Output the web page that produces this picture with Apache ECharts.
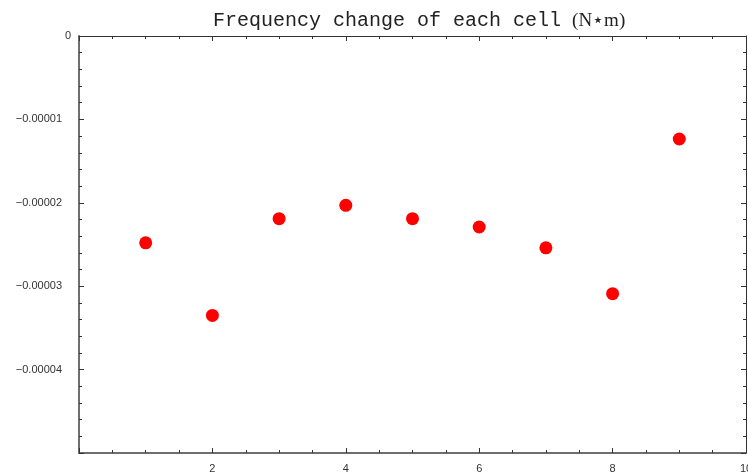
<!DOCTYPE html>
<html>
<head>
<meta charset="utf-8">
<style>html,body{margin:0;padding:0;background:#fff;}#c{width:748px;height:476px;}</style>
<script src="https://cdn.jsdelivr.net/npm/echarts@6/dist/echarts.min.js"></script>
</head>
<body>
<div id="c"></div>
<script>
var cells = [1, 2, 3, 4, 5, 6, 7, 8, 9];
var freqChange = [-2.48e-5, -3.35e-5, -2.19e-5, -2.03e-5, -2.19e-5, -2.29e-5, -2.54e-5, -3.09e-5, -1.235e-5];
var titleMain = 'Frequency change of each cell';
var titleUnit = '(N\u22C6m)';
var xMin = 0, xMax = 10, xStep = 2;
var yMin = -0.00005, yMax = 0, yStep = 0.00001;

var chart = echarts.init(document.getElementById('c'), null, {renderer: 'canvas'});
var pts = cells.map(function (c, i) { return [c, freqChange[i]]; });

var labelFont = {fontFamily: 'Liberation Sans', fontSize: 11, color: '#333'};
function xFmt(v) { return Math.abs(v) < 1e-9 ? '' : String(Math.round(v)); }
function yFmt(v) {
  if (Math.abs(v) < 1e-12) return '{z|0}';
  if (Math.abs(v - yMin) < 1e-12) return '';
  return '{n|' + v.toFixed(5).replace('-', '\u2212') + '}';
}

var option = {
  animation: false,
  backgroundColor: '#fff',
  title: {
    text: '{m|' + titleMain + '}{s|' + titleUnit + '}',
    left: 208, top: 6,
    textStyle: {
      fontWeight: 'normal',
      rich: {
        m: {fontFamily: 'Liberation Mono', fontSize: 20, fontWeight: 'normal', color: '#222'},
        s: {fontFamily: 'Liberation Serif', fontSize: 19, fontWeight: 'normal', color: '#222', padding: [0, 0, 0, 11]}
      }
    }
  },
  grid: {left: 79, right: 2, top: 36, bottom: 23, containLabel: false, outerBoundsMode: 'none'},
  xAxis: [{
    type: 'value', min: xMin, max: xMax, interval: xStep, position: 'bottom',
    axisLine: {show: true, onZero: false, lineStyle: {color: '#6e6e6e', width: 2}},
    axisTick: {show: true, inside: true, length: 5, lineStyle: {color: '#333'}},
    minorTick: {show: true, splitNumber: 4, length: 3, lineStyle: {color: '#333'}},
    axisLabel: Object.assign({margin: 10, formatter: xFmt}, labelFont),
    splitLine: {show: false}
  }, {
    type: 'value', min: xMin, max: xMax, interval: xStep, position: 'top',
    axisLine: {show: true, onZero: false, lineStyle: {color: '#333', width: 1}},
    axisTick: {show: true, inside: true, length: 5, lineStyle: {color: '#333'}},
    minorTick: {show: true, splitNumber: 4, length: 3, lineStyle: {color: '#333'}},
    axisLabel: {show: false},
    splitLine: {show: false}
  }],
  yAxis: [{
    type: 'value', min: yMin, max: yMax, interval: yStep, position: 'left',
    axisLine: {show: true, onZero: false, lineStyle: {color: '#6e6e6e', width: 2}},
    axisTick: {show: true, inside: true, length: 5, lineStyle: {color: '#333'}},
    minorTick: {show: true, splitNumber: 5, length: 3, lineStyle: {color: '#333'}},
    axisLabel: {
      margin: 8, formatter: yFmt,
      rich: {
        z: {fontFamily: 'Liberation Sans', fontSize: 11, color: '#333'},
        n: {fontFamily: 'Liberation Sans', fontSize: 11, color: '#333', padding: [0, 9, 0, 0]}
      }
    },
    splitLine: {show: false}
  }, {
    type: 'value', min: yMin, max: yMax, interval: yStep, position: 'right',
    axisLine: {show: true, onZero: false, lineStyle: {color: '#333', width: 1}},
    axisTick: {show: true, inside: true, length: 5, lineStyle: {color: '#333'}},
    minorTick: {show: true, splitNumber: 5, length: 3, lineStyle: {color: '#333'}},
    axisLabel: {show: false},
    splitLine: {show: false}
  }],
  series: [{
    type: 'scatter', xAxisIndex: 0, yAxisIndex: 0,
    data: pts, symbol: 'circle', symbolSize: 13,
    itemStyle: {color: '#ff0000', opacity: 1}
  }]
};
chart.setOption(option);
</script>
</body>
</html>
